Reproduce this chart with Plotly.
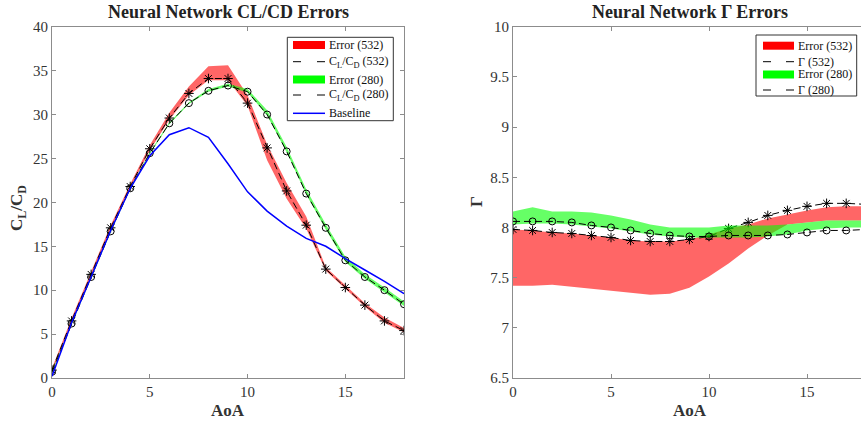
import plotly.graph_objects as go

# ---------------- data ----------------
aoa = list(range(19))

# left panel: CL/CD
cl_cd_532 = [0.9, 6.5, 11.8, 17.1, 21.8, 26.1, 29.6, 32.4, 34.1, 34.1, 31.3, 26.2, 21.3, 17.4, 12.4, 10.3, 8.3, 6.5, 5.4]
cl_cd_532_lo = [0.7, 6.3, 11.6, 16.9, 21.6, 25.9, 29.4, 32.2, 33.9, 33.9, 31.0, 24.8, 20.4, 17.0, 12.2, 10.1, 8.1, 6.3, 5.2]
cl_cd_532_hi = [1.1, 6.8, 12.1, 17.4, 22.1, 26.5, 30.2, 33.2, 35.5, 35.6, 32.2, 26.6, 22.2, 18.4, 12.6, 10.5, 8.5, 6.9, 5.7]

cl_cd_280 = [0.7, 6.2, 11.5, 16.7, 21.6, 25.6, 29.0, 31.3, 32.7, 33.3, 32.6, 30.0, 25.8, 21.0, 17.1, 13.4, 11.5, 10.0, 8.4]
cl_cd_280_lo = [0.6, 6.1, 11.4, 16.6, 21.5, 25.5, 28.9, 31.2, 32.6, 33.2, 32.5, 29.9, 25.7, 20.9, 16.9, 13.2, 11.3, 9.8, 8.2]
cl_cd_280_hi = [0.8, 6.3, 11.6, 16.8, 21.7, 25.7, 29.1, 31.4, 32.9, 33.5, 32.9, 30.5, 26.3, 21.5, 17.5, 13.8, 11.8, 10.3, 8.7]

baseline = [0.2, 6.3, 11.5, 16.8, 21.6, 25.3, 27.7, 28.5, 27.4, 24.4, 21.2, 19.0, 17.3, 15.9, 15.0, 13.6, 12.3, 11.0, 9.6]

# right panel: Gamma
gamma_532 = [7.98, 7.97, 7.95, 7.94, 7.92, 7.90, 7.87, 7.86, 7.86, 7.88, 7.91, 7.99, 8.05, 8.12, 8.17, 8.21, 8.24, 8.24, 8.23]
gamma_532_lo = [7.42, 7.42, 7.43, 7.41, 7.39, 7.37, 7.35, 7.33, 7.34, 7.40, 7.51, 7.64, 7.79, 7.92, 8.03, 8.05, 8.07, 8.07, 8.07]
gamma_532_hi = [7.98, 7.97, 7.95, 7.94, 7.92, 7.90, 7.87, 7.86, 7.86, 7.88, 7.93, 7.99, 8.03, 8.09, 8.13, 8.17, 8.20, 8.21, 8.21]

gamma_280 = [8.06, 8.06, 8.06, 8.05, 8.02, 8.00, 7.97, 7.94, 7.92, 7.91, 7.91, 7.92, 7.92, 7.92, 7.93, 7.95, 7.97, 7.97, 7.98]
gamma_280_lo = [8.03, 8.04, 8.04, 8.03, 8.01, 7.99, 7.96, 7.93, 7.91, 7.90, 7.90, 7.90, 7.90, 7.91, 7.93, 7.97, 7.99, 8.00, 8.00]
gamma_280_hi = [8.16, 8.20, 8.16, 8.16, 8.15, 8.12, 8.08, 8.03, 8.00, 8.00, 8.00, 8.02, 8.02, 8.02, 8.03, 8.05, 8.07, 8.07, 8.07]

left_legend = ["Error (532)", "C<sub>L</sub>/C<sub>D</sub> (532)", "Error (280)",
               "C<sub>L</sub>/C<sub>D</sub> (280)", "Baseline"]
right_legend = ["Error (532)", "Γ (532)", "Error (280)", "Γ (280)"]

# ---------------- styles ----------------
W, H = 861, 423
FONT = "Liberation Serif"
RED_FILL = "rgba(255,0,0,0.6)"
GREEN_FILL = "rgba(0,255,0,0.6)"
AX_COL = "#8c8c8c"
TXT_COL = "#333333"
DASH = "7px,4px"


def px(x):
    return x / W


def py(y):
    return 1 - y / H


fig = go.Figure()


def band(x, lo, hi, color, xa, ya):
    fig.add_trace(go.Scatter(x=list(x) + list(x)[::-1], y=list(hi) + list(lo)[::-1],
                             fill="toself", fillcolor=color, mode="lines",
                             line=dict(width=0), hoverinfo="skip", showlegend=False,
                             xaxis=xa, yaxis=ya))


def marked(x, y, symbol, size, xa, ya):
    fig.add_trace(go.Scatter(x=x, y=y, mode="lines+markers",
                             line=dict(color="black", width=1, dash=DASH),
                             marker=dict(symbol=symbol, size=size, color="black",
                                         line=dict(color="black", width=1)),
                             showlegend=False, xaxis=xa, yaxis=ya))


# left panel
band(aoa, cl_cd_532_lo, cl_cd_532_hi, RED_FILL, "x", "y")
marked(aoa, cl_cd_532, "asterisk-open", 8, "x", "y")
band(aoa, cl_cd_280_lo, cl_cd_280_hi, GREEN_FILL, "x", "y")
marked(aoa, cl_cd_280, "circle-open", 7, "x", "y")
fig.add_trace(go.Scatter(x=aoa, y=baseline, mode="lines", line=dict(color="#0000ff", width=1.5),
                         showlegend=False, xaxis="x", yaxis="y"))

# right panel
band(aoa, gamma_532_lo, gamma_532_hi, RED_FILL, "x2", "y2")
marked(aoa, gamma_532, "asterisk-open", 8, "x2", "y2")
band(aoa, gamma_280_lo, gamma_280_hi, GREEN_FILL, "x2", "y2")
marked(aoa, gamma_280, "circle-open", 7, "x2", "y2")

# ---------------- legends (drawn manually) ----------------
shapes = []
annotations = []
leg_markers_x, leg_markers_y, leg_markers_sym, leg_markers_size = [], [], [], []


def legend(box, rows, texts, kinds, patch_x0, patch_x1, text_x):
    x0, y0, x1, y1 = box
    shapes.append(dict(type="rect", xref="paper", yref="paper", x0=px(x0), x1=px(x1),
                       y0=py(y1), y1=py(y0), line=dict(color="#333333", width=1),
                       fillcolor="white", layer="above"))
    mid = (patch_x0 + patch_x1) / 2
    for ry, t, k in zip(rows, texts, kinds):
        if k in ("red", "green"):
            shapes.append(dict(type="rect", xref="paper", yref="paper", x0=px(patch_x0), x1=px(patch_x1),
                               y0=py(ry + 4), y1=py(ry - 4), line=dict(width=0),
                               fillcolor="#ff0000" if k == "red" else "#00ff00", layer="above"))
        elif k == "blue":
            shapes.append(dict(type="line", xref="paper", yref="paper", x0=px(patch_x0), x1=px(patch_x1),
                               y0=py(ry), y1=py(ry), line=dict(color="#0000ff", width=1.5), layer="above"))
        else:
            for a, b in ((patch_x0, patch_x0 + 8), (patch_x1 - 8, patch_x1)):
                shapes.append(dict(type="line", xref="paper", yref="paper", x0=px(a), x1=px(b),
                                   y0=py(ry), y1=py(ry), line=dict(color="black", width=1), layer="above"))
            leg_markers_x.append(mid)
            leg_markers_y.append(ry)
            leg_markers_sym.append(k)
            leg_markers_size.append(8 if k.startswith("asterisk") else 7)
        annotations.append(dict(x=px(text_x), y=py(ry), xref="paper", yref="paper", text=t,
                                showarrow=False, xanchor="left", yanchor="middle",
                                font=dict(family=FONT, size=12, color="#111111")))


legend((287.3, 37.3, 393.3, 120.7), [45, 61.7, 79.5, 95, 113.3], left_legend,
       ["red", "asterisk-open", "green", "circle-open", "blue"], 293, 325, 327)
legend((756, 35, 856.7, 96), [45.7, 61.7, 74.5, 90], right_legend,
       ["red", "asterisk-open", "green", "circle-open"], 763, 794, 796)

fig.add_trace(go.Scatter(x=leg_markers_x, y=leg_markers_y, mode="markers",
                         marker=dict(symbol=leg_markers_sym, size=leg_markers_size, color="black",
                                     line=dict(color="black", width=1)),
                         showlegend=False, hoverinfo="skip", xaxis="x3", yaxis="y3"))


def label(x, y, text, size, angle=0, color="#333333"):
    annotations.append(dict(x=px(x), y=py(y), xref="paper", yref="paper", showarrow=False,
                            xanchor="center", yanchor="middle", textangle=angle, text=text,
                            font=dict(family=FONT, size=size, color=color)))


label(229, 12, "<b>Neural Network CL/CD Errors</b>", 18, color="#222222")
label(689.5, 12, "<b>Neural Network Γ Errors</b>", 18, color="#222222")
label(228, 410, "<b>AoA</b>", 17)
label(690, 410, "<b>AoA</b>", 17)
label(18, 208, "<b>C<sub>L</sub>/C<sub>D</sub></b>", 17, angle=-90)
label(476, 202, "<b>Γ</b>", 17, angle=-90)

axis_common = dict(showgrid=False, zeroline=False, showline=True, linecolor=AX_COL, linewidth=1,
                   ticks="inside", ticklen=4, tickcolor=AX_COL, automargin=False,
                   tickfont=dict(family=FONT, size=15, color=TXT_COL))

y_dom = [py(378), py(26.7)]
fig.update_layout(
    template="none",
    width=W, height=H, margin=dict(l=0, r=0, t=0, b=0, pad=0), autosize=False,
    paper_bgcolor="white", plot_bgcolor="rgba(0,0,0,0)", showlegend=False,
    xaxis=dict(domain=[px(52), px(404)], range=[0, 18], tickvals=[0, 5, 10, 15], mirror="ticks",
               anchor="y", **axis_common),
    yaxis=dict(domain=y_dom, range=[0, 40], dtick=5, mirror="ticks", anchor="x", **axis_common),
    xaxis2=dict(domain=[px(513), 1.0], range=[0, (W - 513) / 19.6], tickvals=[0, 5, 10, 15],
                mirror="ticks", anchor="y2", **axis_common),
    yaxis2=dict(domain=y_dom, range=[6.5, 10], dtick=0.5, anchor="x2", **axis_common),
    xaxis3=dict(domain=[0, 1], range=[0, W], visible=False, showticklabels=False, fixedrange=True,
                anchor="y3", automargin=False),
    yaxis3=dict(domain=[0, 1], range=[H, 0], visible=False, showticklabels=False, fixedrange=True,
                anchor="x3", automargin=False),
    shapes=shapes, annotations=annotations,
)

fig.write_html("out.html", config={"displayModeBar": False, "staticPlot": True},
               post_script="document.body.style.margin='0px';document.body.style.overflow='hidden';")
